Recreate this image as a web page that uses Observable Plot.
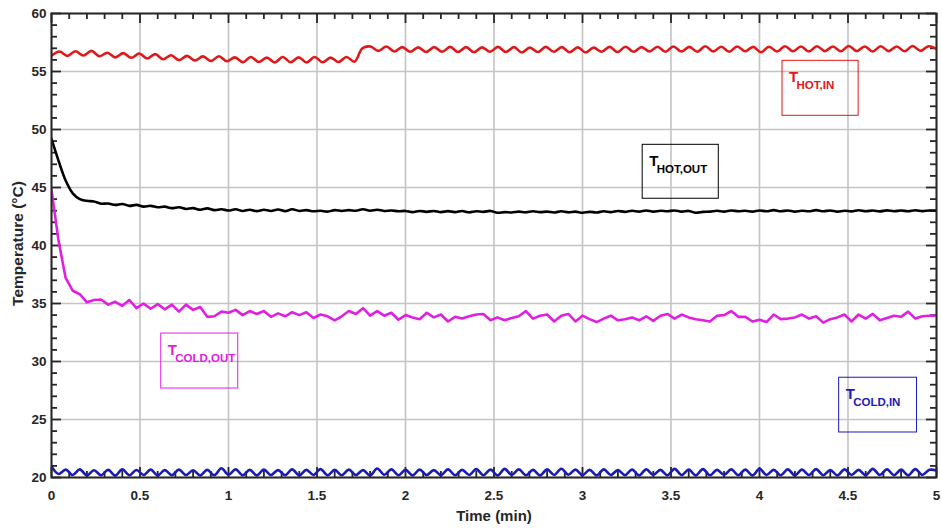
<!DOCTYPE html>
<html>
<head>
<meta charset="utf-8">
<script src="https://cdn.jsdelivr.net/npm/d3@7"></script>
<script src="https://cdn.jsdelivr.net/npm/@observablehq/plot@0.6"></script>
<style>
  html, body { margin: 0; padding: 0; background: #ffffff; }
  #chart svg { display: block; }
</style>
</head>
<body>
<div id="chart"></div>
<script>
// ---- Data; each series spans 0–5 min evenly ----
const tHotIn = [
  56.35,56.72,56.35,56.74,56.38,56.78,56.32,56.62,56.22,56.58,
  56.18,56.55,56.12,56.50,56.05,56.40,55.98,56.35,55.95,56.30,
  55.90,56.32,55.88,56.22,55.80,56.25,55.82,56.20,55.78,56.25,
  55.80,56.22,55.78,56.25,55.80,56.20,55.82,56.25,55.85,57.00,
  57.15,56.78,57.15,56.72,57.10,56.70,57.08,56.68,57.10,56.70,
  57.12,56.68,57.10,56.66,57.08,56.70,57.12,56.68,57.10,56.64,
  57.06,56.68,57.12,56.70,57.10,56.66,57.08,56.64,57.06,56.70,
  57.12,56.68,57.14,56.70,57.10,56.72,57.14,56.70,57.16,56.72,
  57.12,56.70,57.18,56.72,57.14,56.70,57.16,56.74,57.12,56.66,
  57.14,56.72,57.18,56.74,57.16,56.72,57.18,56.76,57.16,56.74,
  57.20,56.76,57.16,56.72,57.18,56.76,57.16,56.74,57.20,56.78,
  57.18,56.95
];
const tHotOut = [
  49.2,47.3,45.6,44.5,44.0,43.85,43.8,43.6,43.62,43.5,
  43.58,43.42,43.5,43.35,43.42,43.3,43.35,43.22,43.3,43.15,
  43.22,43.08,43.2,43.05,43.12,43.02,43.12,42.98,43.08,42.96,
  43.08,42.98,43.1,42.96,43.12,42.98,43.05,42.95,43.0,42.92,
  43.05,42.98,43.05,43.0,43.12,43.0,43.08,42.98,43.02,42.95,
  42.98,42.88,42.98,42.9,42.98,42.88,42.96,42.88,42.98,42.86,
  42.95,42.9,42.98,42.82,42.88,42.85,42.92,42.86,42.95,42.88,
  42.92,42.85,42.95,42.86,42.92,42.82,42.9,42.85,42.95,42.88,
  42.98,42.9,43.0,42.92,43.02,42.92,43.0,42.95,43.02,42.92,
  42.98,42.82,42.9,42.92,43.0,42.92,43.02,42.95,43.0,42.92,
  43.02,42.95,43.05,42.95,43.02,42.92,43.0,42.95,43.05,42.95,
  43.02,42.92,43.0,42.94,43.04,42.95,43.02,42.94,43.03,42.95,
  43.02,42.95,43.04,42.96,43.02,43.0
];
const tColdOut = [
  44.8,40.4,37.2,36.1,35.8,35.1,35.3,35.35,34.9,35.15,
  34.8,35.3,34.6,35.0,34.55,34.95,34.5,34.9,34.3,34.9,
  34.45,34.7,33.85,33.9,34.3,34.2,34.45,34.0,34.35,34.1,
  34.35,33.85,34.15,33.9,34.25,34.0,34.25,33.75,34.05,33.9,
  33.55,33.9,34.35,34.1,34.6,33.95,34.35,33.95,34.2,33.6,
  34.0,33.8,33.65,34.2,33.8,34.05,33.45,33.85,33.7,33.9,
  34.05,34.1,33.55,33.8,33.55,33.75,33.9,34.35,33.7,33.95,
  34.05,33.45,33.95,34.1,33.45,33.95,33.65,33.4,33.7,33.95,
  33.55,33.65,33.8,33.55,33.9,33.5,33.95,34.1,33.7,34.05,
  33.8,33.65,33.55,33.45,33.95,34.0,34.35,33.85,33.85,33.45,
  33.6,33.4,34.05,33.65,33.7,33.8,34.05,33.7,33.9,33.35,
  33.65,33.8,34.05,33.45,34.05,33.7,34.1,33.55,33.75,33.95,
  33.85,34.3,33.7,33.9,33.95,33.95
];
const tColdIn = [
  20.95,20.30,20.68,20.22,20.70,20.18,20.62,20.20,20.66,20.16,
  20.70,20.20,20.65,20.22,20.68,20.18,20.64,20.20,20.68,20.22,
  20.62,20.18,20.66,20.20,20.80,20.24,20.70,20.20,20.66,20.18,
  20.68,20.22,20.64,20.20,20.70,20.18,20.66,20.22,20.72,20.20,
  20.66,20.20,20.68,20.22,20.64,20.18,20.78,20.24,20.70,20.20,
  20.66,20.18,20.68,20.22,20.64,20.20,20.70,20.20,20.66,20.22,
  20.72,20.20,20.68,20.18,20.74,20.22,20.70,20.20,20.66,20.18,
  20.70,20.22,20.76,20.24,20.68,20.20,20.66,20.18,20.70,20.22,
  20.64,20.20,20.68,20.18,20.70,20.22,20.66,20.20,20.74,20.22,
  20.68,20.18,20.72,20.20,20.66,20.22,20.70,20.20,20.68,20.18,
  20.74,20.22,20.66,20.20,20.70,20.18,20.68,20.22,20.72,20.20,
  20.64,20.18,20.70,20.22,20.66,20.20,20.74,20.22,20.70,20.20,
  20.68,20.18,20.72,20.22,20.66,20.60
];

const xTicks = [0, 0.5, 1, 1.5, 2, 2.5, 3, 3.5, 4, 4.5, 5];
const xTickLabels = ["0", "0.5", "1", "1.5", "2", "2.5", "3", "3.5", "4", "4.5", "5"];
const yTicks = [20, 25, 30, 35, 40, 45, 50, 55, 60];
const xMinor = d3.range(0, 51).map(i => i / 10);
const yMinor = d3.range(20, 61);

const seriesNames = ["T_HOT,IN", "T_HOT,OUT", "T_COLD,OUT", "T_COLD,IN"];
const seriesColors = ["#e01818", "#000000", "#e020e0", "#1a1ab4"];

// annotation boxes (data coordinates)
const labelMain = ["T", "T", "T", "T"];
const labelSub = ["HOT,IN", "HOT,OUT", "COLD,OUT", "COLD,IN"];
const boxX1 = [4.13, 3.34, 0.62, 4.45];
const boxX2 = [4.56, 3.77, 1.055, 4.89];
const boxY1 = [51.18, 44.03, 27.67, 23.88];
const boxY2 = [55.92, 48.68, 32.41, 28.6];

// ---- build ----
const allSeries = [tHotIn, tHotOut, tColdOut, tColdIn];
const rows = allSeries.map((vals, k) =>
  vals.map((v, i) => ({t: i * 5 / (vals.length - 1), v, k}))
);

const W = 942, H = 529;
const mL = 51, mR = 6, mT = 13, mB = 52;
const plotW = W - mL - mR, plotH = H - mT - mB;
const axisColor = "#262626";
const font = "Liberation Sans, Arial, Helvetica, sans-serif";

const isMajorX = d => xTicks.some(t => Math.abs(t - d) < 1e-9);
const isMajorY = d => yTicks.includes(d);

const marks = [];
// grid
marks.push(Plot.ruleX(xTicks, {x: d => d, stroke: "#c4c4c4", strokeWidth: 1.6}));
marks.push(Plot.ruleY(yTicks, {y: d => d, stroke: "#c4c4c4", strokeWidth: 1.6}));

// ticks pointing inward on all four sides
const tickStroke = {stroke: axisColor, strokeWidth: 1.8};
marks.push(Plot.tickX(xMinor.filter(d => !isMajorX(d)), {x: d => d, insetTop: plotH - 6, ...tickStroke}));
marks.push(Plot.tickX(xMinor.filter(d => !isMajorX(d)), {x: d => d, insetBottom: plotH - 6, ...tickStroke}));
marks.push(Plot.tickX(xTicks, {x: d => d, insetTop: plotH - 10, ...tickStroke}));
marks.push(Plot.tickX(xTicks, {x: d => d, insetBottom: plotH - 10, ...tickStroke}));
marks.push(Plot.tickY(yMinor.filter(d => !isMajorY(d)), {y: d => d, insetRight: plotW - 6, ...tickStroke}));
marks.push(Plot.tickY(yMinor.filter(d => !isMajorY(d)), {y: d => d, insetLeft: plotW - 6, ...tickStroke}));
marks.push(Plot.tickY(yTicks, {y: d => d, insetRight: plotW - 10, ...tickStroke}));
marks.push(Plot.tickY(yTicks, {y: d => d, insetLeft: plotW - 10, ...tickStroke}));

// series lines
rows.forEach((data, k) => {
  marks.push(Plot.line(data, {
    x: "t", y: "v",
    stroke: seriesColors[k],
    strokeWidth: 2.6,
    curve: k === 2 ? "linear" : "catmull-rom",
    clip: true
  }));
});

// frame
marks.push(Plot.frame({stroke: axisColor, strokeWidth: 2}));

// axes (labels only)
marks.push(Plot.axisX({
  ticks: xTicks, tickSize: 0, tickPadding: 13,
  tickFormat: d => xTickLabels[xTicks.indexOf(d)],
  label: null, fontSize: 13.5, fontWeight: "bold", fill: axisColor
}));
marks.push(Plot.axisY({
  ticks: yTicks, tickSize: 0, tickPadding: 5,
  tickFormat: d => String(d),
  label: null, fontSize: 13.5, fontWeight: "bold", fill: axisColor
}));

// axis titles
marks.push(Plot.text(["Time (min)"], {
  frameAnchor: "bottom", dy: 39, text: d => d, textAnchor: "middle", lineAnchor: "middle",
  fontSize: 15, fontWeight: "bold", fill: axisColor
}));
marks.push(Plot.text(["Temperature (°C)"], {
  frameAnchor: "left", dx: -33, dy: -2, rotate: -90, text: d => d,
  textAnchor: "middle", lineAnchor: "middle",
  fontSize: 15.5, fontWeight: "bold", fill: axisColor
}));

// annotation boxes with subscripted labels
const boxes = labelSub.map((s, k) => ({
  main: labelMain[k], sub: s, x1: boxX1[k], x2: boxX2[k], y1: boxY1[k], y2: boxY2[k], color: seriesColors[k]
}));
boxes.forEach(b => {
  marks.push(Plot.rect([b], {x1: "x1", x2: "x2", y1: "y1", y2: "y2", fill: "none", stroke: b.color, strokeWidth: 1}));
  marks.push(Plot.text([b], {x: "x1", y: "y2", text: "main", textAnchor: "start", lineAnchor: "top",
    dx: 6.5, dy: 10.5, fontSize: 15, fontWeight: "bold", fill: b.color}));
  marks.push(Plot.text([b], {x: "x1", y: "y2", text: "sub", textAnchor: "start", lineAnchor: "top",
    dx: 14, dy: 20.5, fontSize: 11.5, fontWeight: "bold", fill: b.color}));
});

const chart = Plot.plot({
  width: W, height: H,
  marginLeft: mL, marginRight: mR, marginTop: mT, marginBottom: mB,
  x: {domain: [0, 5], label: null},
  y: {domain: [20, 60], label: null},
  style: {fontFamily: font, background: "#ffffff", color: axisColor, fontSize: "13px"},
  marks
});
document.getElementById("chart").appendChild(chart);
</script>
</body>
</html>
